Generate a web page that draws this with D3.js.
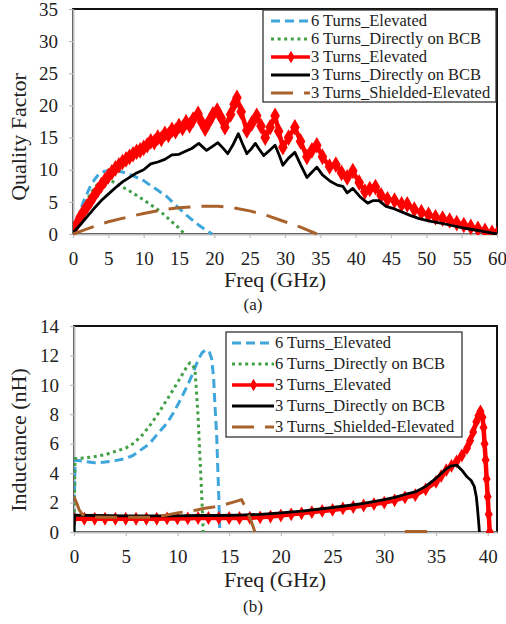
<!DOCTYPE html>
<html>
<head>
<meta charset="utf-8">
<script src="https://cdn.jsdelivr.net/npm/d3@7"></script>
<style>
  body { margin: 0; background: #fff; }
  svg { display: block; }
</style>
</head>
<body>
<svg id="chart" width="506" height="624"></svg>
<script>
const FONT = 'Liberation Serif';

// series names (legend order)
const seriesNames = [
    '6 Turns_Elevated',
    '6 Turns_Directly on BCB',
    '3 Turns_Elevated',
    '3 Turns_Directly on BCB',
    '3 Turns_Shielded-Elevated'
];

// tick labels
const qTicksX = [0, 5, 10, 15, 20, 25, 30, 35, 40, 45, 50, 55, 60];
const qTicksY = [0, 5, 10, 15, 20, 25, 30, 35];
const lTicksX = [0, 5, 10, 15, 20, 25, 30, 35, 40];
const lTicksY = [0, 2, 4, 6, 8, 10, 12, 14];

// (a) quality factor vs freq (GHz), [freq, Q]
const qElev6 = [[0, 0], [0.5, 1.8], [1, 3.4], [1.4, 4.8], [2, 6.3], [2.4, 7.3], [3, 8.4], [3.5, 9.1],
    [4, 9.6], [5, 9.9], [6, 9.9], [7.1, 9.6], [8, 9.3], [9, 8.8], [10, 8.3], [10.9, 7.6], [12, 6.8],
    [13.3, 5.8], [14.5, 4.5], [16.1, 2.9], [17.5, 1.6], [18.7, 0.7], [19.7, 0]];
const qBcb6 = [[0, 0], [0.5, 1.6], [1, 3.0], [1.5, 4.2], [2, 5.3], [2.5, 6.3], [3, 7.1], [3.5, 7.8],
    [4, 8.3], [4.5, 8.6], [5, 8.6], [5.7, 8.1], [6.5, 7.6], [8, 6.7], [10, 5.3], [12, 3.8], [13, 2.9],
    [14, 1.9], [15, 0.9], [15.8, 0]];
const qElev3 = [[0, 0.3], [0.5, 1.5], [1, 2.6], [1.5, 3.5], [2, 4.3], [2.5, 5.1], [3, 6.0], [3.5, 6.8],
    [4, 7.6], [4.5, 8.3], [5, 9.0], [5.5, 9.6], [6, 10.2], [6.5, 10.7], [7, 11.2], [7.5, 11.6], [8, 12.0],
    [8.5, 12.4], [9, 12.8], [9.5, 13.0], [10, 13.4], [10.5, 13.8], [11, 14.4], [11.5, 14.3], [12, 15.0],
    [12.5, 14.8], [13, 15.6], [13.5, 15.4], [14, 16.2], [14.5, 16.0], [15, 16.8], [15.5, 16.5], [16, 17.4],
    [16.5, 16.9], [17, 17.8], [17.7, 18.7], [18.2, 17.4], [18.7, 16.4], [19.3, 17.6], [19.8, 18.6],
    [20.4, 19.2], [21, 18.0], [21.5, 16.6], [22.3, 18.6], [22.8, 20.2], [23.2, 21.2], [23.8, 19.0],
    [24.6, 16.1], [25.3, 17.2], [26, 18.4], [26.6, 16.8], [27.2, 15.0], [27.9, 16.6], [28.6, 18.4],
    [29.1, 16.0], [29.7, 13.5], [30.5, 15.0], [31.4, 16.6], [32.2, 14.4], [33.1, 12.0], [33.8, 13.0],
    [34.5, 13.8], [35.3, 12.0], [36.3, 10.5], [37.2, 10.8], [38, 9.5], [38.8, 8.8], [39.6, 9.8],
    [40.5, 8.0], [41.3, 6.6], [42, 7.0], [42.8, 7.3], [43.6, 6.0], [44.5, 5.4], [45.5, 5.2], [46.5, 4.6],
    [47.3, 4.6], [48.3, 3.8], [49.3, 3.4], [50.3, 3.0], [51.3, 2.6], [52.3, 2.4], [53.3, 2.1], [54.3, 1.7],
    [55.3, 1.4], [56.3, 1.1], [57.3, 0.8], [58.3, 0.5], [59.3, 0.2], [60, 0]];
const qBcb3 = [[0, 0.2], [1, 1.4], [2, 2.7], [2.4, 3.2], [3, 4.0], [4, 5.2], [5, 6.2], [6, 7.2], [7, 8.1],
    [8, 8.8], [9, 9.5], [10, 10.0], [11, 10.9], [12, 11.2], [13, 11.6], [14, 12.3], [15, 12.4], [16, 12.9],
    [16.8, 13.3], [17.8, 14.1], [18.9, 13.0], [19.7, 13.6], [20.5, 14.2], [21.2, 13.4], [21.9, 12.5],
    [22.6, 13.8], [23.4, 15.6], [24, 14.0], [24.6, 12.5], [25.2, 13.2], [25.8, 14.1], [26.4, 13.1],
    [27, 12.2], [27.8, 13.0], [28.6, 13.8], [29.2, 12.2], [29.7, 10.7], [30.5, 11.8], [31.4, 12.7],
    [32.2, 10.8], [33.1, 8.8], [33.8, 9.6], [34.5, 10.4], [35.3, 9.2], [36.4, 8.2], [37.4, 7.6],
    [38.2, 7.4], [38.8, 6.4], [39.6, 7.1], [40.6, 5.8], [41.7, 4.8], [42.5, 5.2], [43.3, 5.2], [44.3, 4.3],
    [45.5, 3.9], [46.6, 3.4], [47.7, 2.9], [49, 2.4], [50.5, 2.0], [52, 1.7], [53.3, 1.4], [55, 1.0],
    [56.5, 0.7], [58, 0.4], [59, 0.2], [60, 0]];
const qShield3 = [[0, 0], [2.8, 1.1], [5, 1.9], [7.6, 2.6], [10, 3.2], [12.3, 3.7], [15, 4.1], [18, 4.3],
    [20.5, 4.3], [22.6, 4.1], [25, 3.6], [27.4, 2.9], [30, 1.9], [32.1, 1.1], [34.5, 0]];

// (b) inductance (nH) vs freq (GHz), [freq, L]; null marks a break
const lElev6 = [[0, 0], [0.1, 4.9], [1, 4.8], [2, 4.7], [3, 4.75], [4, 4.85], [5, 5.0], [5.7, 5.2],
    [6.5, 5.6], [7.3, 6.0], [8, 6.6], [9, 7.4], [9.7, 8.2], [10.3, 9.0], [11, 10.0], [11.5, 10.8],
    [12, 11.7], [12.4, 12.2], [12.8, 12.4], [13.1, 12.2], [13.3, 11.8], [13.5, 10.5], [13.6, 9.0],
    [13.8, 6.5], [13.9, 4.4], [14, 2.4], [14.1, 0]];
const lBcb6 = [[0, 0], [0.1, 5.0], [0.5, 5.0], [1.8, 5.1], [3, 5.25], [4.1, 5.5], [5, 5.7], [5.7, 6.0],
    [6.5, 6.5], [7.3, 7.2], [8, 7.9], [9, 9.0], [9.7, 9.8], [10.3, 10.5], [10.8, 11.1], [11.2, 11.5],
    [11.5, 11.3], [11.7, 11.0], [11.85, 9.5], [12, 7.8], [12.15, 5.5], [12.3, 3.3], [12.5, 0]];
const lElev3 = [[0, 0.9], [1, 0.9], [2, 0.9], [3, 0.9], [4, 0.9], [5, 0.9], [6, 0.9], [7, 0.9], [8, 0.9],
    [9, 0.92], [10, 0.92], [11, 0.93], [12, 0.95], [13, 0.95], [14, 0.95], [15, 0.95], [16, 0.95],
    [17, 0.97], [18, 1.0], [19, 1.05], [20, 1.12], [21, 1.2], [22, 1.27], [23, 1.35], [24, 1.43],
    [25, 1.5], [26, 1.6], [27, 1.7], [28, 1.8], [29, 1.9], [30, 2.0], [31, 2.15], [32, 2.35], [33, 2.5],
    [34, 2.9], [35, 3.4], [35.5, 3.8], [36, 4.2], [36.5, 4.5], [37, 4.8], [37.5, 5.2], [38, 5.7],
    [38.3, 6.2], [38.6, 6.8], [38.9, 7.5], [39.1, 7.9], [39.3, 8.2], [39.5, 7.8], [39.6, 7.1], [39.7, 6.0],
    [39.8, 4.9], [39.9, 3.6], [40, 2.4], [40.1, 1.2], [40.2, 0]];
const lBcb3 = [[0, 0], [0.05, 1.15], [2, 1.12], [5, 1.1], [8, 1.1], [10, 1.1], [12, 1.12], [14, 1.12],
    [16, 1.15], [18, 1.2], [20, 1.3], [22, 1.42], [24, 1.58], [26, 1.75], [28, 1.95], [30, 2.2],
    [31, 2.35], [32, 2.55], [33, 2.72], [34, 3.1], [35, 3.65], [36, 4.3], [36.5, 4.5], [37, 4.55],
    [37.5, 4.2], [38, 3.75], [38.4, 3.5], [38.7, 3.1], [38.9, 2.4], [39, 1.7], [39.1, 0.9], [39.2, 0]];
const lShield3 = [[0, 2.4], [0.3, 1.9], [0.5, 1.5], [0.8, 1.2], [1.2, 1.05], [3, 1.0], [5, 1.0],
    [7.3, 1.0], [9, 1.15], [10, 1.3], [11, 1.4], [11.9, 1.5], [12.5, 1.6], [13.5, 1.7], [14.5, 1.85],
    [15.5, 2.05], [16.2, 2.2], [16.7, 1.5], [17.1, 0.8], [17.5, 0], null, [32, 0.03], [34.2, 0.03]];

// line looks, same order as seriesNames
const looks = [
    { color: '#3ea6da', width: 3, dash: '9,5' },
    { color: '#43a047', width: 3, dash: '3,3.6' },
    { color: '#ff0000', width: 4.5, dash: null, marker: true },
    { color: '#000000', width: 2.8, dash: null },
    { color: '#a9622b', width: 3, dash: '22,11' }
];

const svg = d3.select('#chart');

drawPanel({
    id: 'a',
    series: [qElev6, qBcb6, qElev3, qBcb3, qShield3],
    left: 73, right: 497, top: 9, bottom: 234,
    xMax: 60, yMax: 35, ticksX: qTicksX, ticksY: qTicksY,
    yTitle: 'Quality Factor', yTitleY: 137,
    tickBase: 265, xTitleBase: 287, capBase: 310,
    legend: { x: 263, y: 10, w: 233, h: 92, rowY: 21, rowGap: 18, symX: 271, textX: 311 },
    markerSize: 80
});

drawPanel({
    id: 'b',
    series: [lElev6, lBcb6, lElev3, lBcb3, lShield3],
    left: 74, right: 497, top: 326, bottom: 532,
    xMax: 40.9, yMax: 14, ticksX: lTicksX, ticksY: lTicksY,
    yTitle: 'Inductance (nH)', yTitleY: 440,
    tickBase: 563, xTitleBase: 587, capBase: 612,
    legend: { x: 226, y: 332, w: 236, h: 105, rowY: 343, rowGap: 21, symX: 232, textX: 275 },
    markerSize: 55
});

function serif(sel, size) {
    sel.attr('font-family', FONT)
        .style('font-family', FONT)
        .style('font-size', size + 'px')
        .attr('fill', '#222');
}

function drawPanel(p) {
    var x = d3.scaleLinear().domain([0, p.xMax]).range([p.left, p.right]);
    var y = d3.scaleLinear().domain([0, p.yMax]).range([p.bottom, p.top]);
    var g = svg.append('g');

    g.append('clipPath').attr('id', 'clip-' + p.id)
        .append('rect')
        .attr('x', p.left).attr('y', p.top)
        .attr('width', p.right - p.left).attr('height', p.bottom - p.top + 1);

    // plot border, then the grey axes over it
    g.append('rect')
        .attr('x', p.left).attr('y', p.top)
        .attr('width', p.right - p.left).attr('height', p.bottom - p.top)
        .attr('fill', 'none').attr('stroke', '#111').attr('stroke-width', 2);

    var xAxis = g.append('g')
        .attr('transform', 'translate(0,' + p.bottom + ')')
        .call(d3.axisBottom(x).tickValues(p.ticksX).tickSize(4).tickSizeOuter(0));
    var yAxis = g.append('g')
        .attr('transform', 'translate(' + p.left + ',0)')
        .call(d3.axisLeft(y).tickValues(p.ticksY).tickSize(4).tickSizeOuter(0));

    [xAxis, yAxis].forEach(function(ax) {
        ax.attr('font-family', FONT);
        ax.select('.domain').attr('stroke', '#bdbdbd').attr('stroke-width', 2);
        ax.selectAll('.tick line').attr('stroke', '#bdbdbd').attr('stroke-width', 1.2);
        serif(ax.selectAll('.tick text'), 19);
    });
    xAxis.selectAll('.tick text').attr('y', p.tickBase - p.bottom).attr('dy', null);
    yAxis.selectAll('.tick text').attr('x', -15).attr('dy', '0.33em');

    // series
    var line = d3.line()
        .defined(function(d) { return d !== null; })
        .x(function(d) { return x(d[0]); })
        .y(function(d) { return y(d[1]); });
    var plot = g.append('g').attr('clip-path', 'url(#clip-' + p.id + ')');
    p.series.forEach(function(data, i) {
        var look = looks[i];
        plot.append('path')
            .datum(data)
            .attr('d', line)
            .attr('fill', 'none')
            .attr('stroke', look.color)
            .attr('stroke-width', look.width)
            .attr('stroke-dasharray', look.dash)
            .attr('stroke-linejoin', 'round');
        if (look.marker) {
            plot.selectAll(null)
                .data(data.filter(function(d) { return d !== null; }))
                .enter().append('path')
                .attr('d', d3.symbol(d3.symbolDiamond, p.markerSize))
                .attr('transform', function(d) { return 'translate(' + x(d[0]) + ',' + y(d[1]) + ')'; })
                .attr('fill', look.color);
        }
    });

    // titles
    g.append('text')
        .attr('transform', 'translate(26,' + p.yTitleY + ') rotate(-90)')
        .attr('text-anchor', 'middle')
        .call(serif, 22)
        .text(p.yTitle);
    g.append('text')
        .attr('x', 275).attr('y', p.xTitleBase)
        .attr('text-anchor', 'middle')
        .call(serif, 22)
        .text('Freq (GHz)');
    g.append('text')
        .attr('x', 253).attr('y', p.capBase)
        .attr('text-anchor', 'middle')
        .call(serif, 17)
        .text('(' + p.id + ')');

    // legend
    var lg = p.legend;
    g.append('rect')
        .attr('x', lg.x).attr('y', lg.y).attr('width', lg.w).attr('height', lg.h)
        .attr('fill', '#fff').attr('stroke', '#333').attr('stroke-width', 1.3);
    var rows = g.selectAll(null).data(seriesNames).enter().append('g')
        .attr('transform', function(d, i) { return 'translate(0,' + (lg.rowY + i * lg.rowGap) + ')'; });
    rows.append('line')
        .attr('x1', lg.symX).attr('x2', lg.textX - 1)
        .attr('stroke', function(d, i) { return looks[i].color; })
        .attr('stroke-width', function(d, i) { return Math.min(looks[i].width, 3.5); })
        .attr('stroke-dasharray', function(d, i) { return looks[i].dash; });
    rows.filter(function(d, i) { return looks[i].marker; })
        .append('path')
        .attr('d', d3.symbol(d3.symbolDiamond, 45))
        .attr('transform', 'translate(' + (lg.symX + lg.textX) / 2 + ',0)')
        .attr('fill', looks[2].color);
    rows.append('text')
        .attr('x', lg.textX).attr('dy', '0.33em')
        .call(serif, 16.5)
        .text(function(d) { return d; });
}
</script>
</body>
</html>
